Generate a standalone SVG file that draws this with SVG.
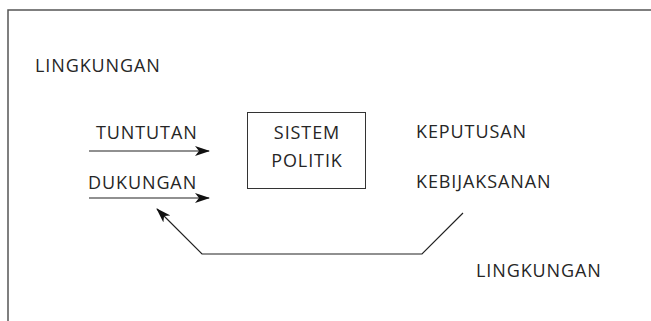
<svg xmlns="http://www.w3.org/2000/svg" width="651" height="321" viewBox="0 0 651 321">
<style>
text{font-family:"Open Sans","Noto Sans",sans-serif;font-size:18px;letter-spacing:0.9px;fill:#262626}
.ln{stroke:#222;stroke-width:1.2;fill:none}
.frame{stroke:#555;stroke-width:1.5;fill:none}
</style>
<defs>
<marker id="ah" viewBox="0 0 15 10" refX="14" refY="5" markerWidth="15" markerHeight="10" markerUnits="userSpaceOnUse" orient="auto">
<path d="M0,0 L15,5 L0,10 L4,5 Z" fill="#111"/>
</marker>
</defs>
<path class="frame" d="M8,321 V10 H651"/>
<text x="35" y="72">LINGKUNGAN</text>
<text x="476" y="277">LINGKUNGAN</text>
<g id="tuntutan"><text x="96" y="139">TUNTUTAN</text></g>
<g id="dukungan"><text x="88" y="189">DUKUNGAN</text></g>
<g id="sistem">
<rect x="247.5" y="112.5" width="118" height="76" fill="none" stroke="#333" stroke-width="1"/>
<text x="307" y="139" text-anchor="middle">SISTEM</text>
<text x="307" y="167" text-anchor="middle">POLITIK</text>
</g>
<g id="keputusan"><text x="416" y="138">KEPUTUSAN</text></g>
<g id="kebijaksanan"><text x="416" y="188">KEBIJAKSANAN</text></g>
<g id="connectors">
<line class="ln" x1="89" y1="151" x2="209" y2="151" marker-end="url(#ah)"/>
<line class="ln" x1="89" y1="198" x2="209" y2="198" marker-end="url(#ah)"/>
<polyline class="ln" points="463,213 422,254 202,254 157,209" marker-end="url(#ah)"/>
</g>
</svg>
